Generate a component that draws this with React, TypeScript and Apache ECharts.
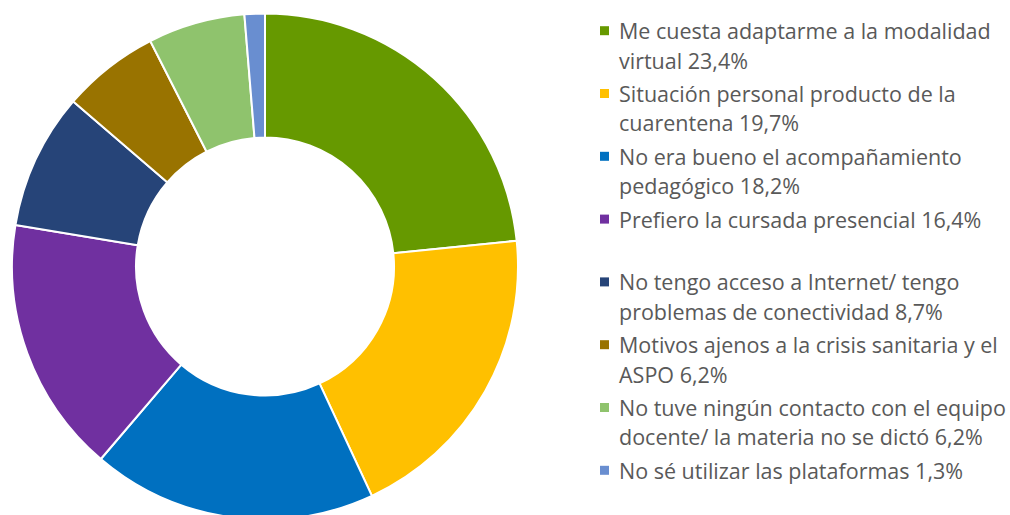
import React, { useEffect, useRef } from "react";
import * as echarts from "echarts";

const categories = [
  "Me cuesta adaptarme a la modalidad virtual",
  "Situación personal producto de la cuarentena",
  "No era bueno el acompañamiento pedagógico",
  "Prefiero la cursada presencial",
  "No tengo acceso a Internet/ tengo problemas de conectividad",
  "Motivos ajenos a la crisis sanitaria y el ASPO",
  "No tuve ningún contacto con el equipo docente/ la materia no se dictó",
  "No sé utilizar las plataformas",
];
const values = [23.4, 19.7, 18.2, 16.4, 8.7, 6.2, 6.2, 1.3];
const colors = ["#669900", "#FFC000", "#0070C0", "#7030A0", "#264478", "#997300", "#8FC36D", "#698ED0"];
// first legend line for each entry (the rest wraps to the second line)
const firstLines = [
  "Me cuesta adaptarme a la modalidad",
  "Situación personal producto de la",
  "No era bueno el acompañamiento",
  "Prefiero la cursada presencial 16,4%",
  "No tengo acceso a Internet/ tengo",
  "Motivos ajenos a la crisis sanitaria y el",
  "No tuve ningún contacto con el equipo",
  "No sé utilizar las plataformas 1,3%",
];

const FONT = "'Open Sans'";

export default function App() {
  const ref = useRef<HTMLDivElement>(null);
  useEffect(() => {
    if (!ref.current) return;
    const chart = echarts.init(ref.current, undefined, { renderer: "svg" });
    const rich: Record<string, any> = {
      g: { width: 10, height: 9 },
      e: { width: 9, height: 9 },
      t: { fontFamily: FONT, fontSize: 21.5, color: "#595959", lineHeight: 29.4 },
    };
    colors.forEach((c, i) => {
      rich["m" + i] = { width: 9, height: 9, backgroundColor: c };
    });
    chart.setOption({
      animation: false,
      legend: {
        orient: "vertical",
        left: 594,
        top: 16,
        height: 500,
        padding: 0,
        itemWidth: 0,
        itemHeight: 0,
        itemGap: 4,
        icon: "rect",
        selectedMode: false,
        data: categories,
        textStyle: { fontFamily: FONT, fontSize: 21.5, color: "#595959", lineHeight: 29.4, rich },
        formatter: (name: string) => {
          const i = categories.indexOf(name);
          const full = name + " " + values[i].toFixed(1).replace(".", ",") + "%";
          const l1 = firstLines[i];
          const l2 = full.slice(l1.length).trim() || " ";
          return `{m${i}|}{g|}{t|${l1}}\n{e|}{g|}{t|${l2}}`;
        },
      },
      series: [
        {
          type: "pie",
          center: [265, 266.5],
          radius: [129, 253],
          startAngle: 90,
          clockwise: true,
          label: { show: false },
          labelLine: { show: false },
          emphasis: { disabled: true },
          itemStyle: { borderColor: "#ffffff", borderWidth: 2 },
          data: categories.map((n, i) => ({ name: n, value: values[i], itemStyle: { color: colors[i] } })),
        },
      ],
    });
    return () => chart.dispose();
  }, []);
  return <div ref={ref} style={{ width: 1010, height: 515, position: "absolute", left: 0, top: 0 }} />;
}
